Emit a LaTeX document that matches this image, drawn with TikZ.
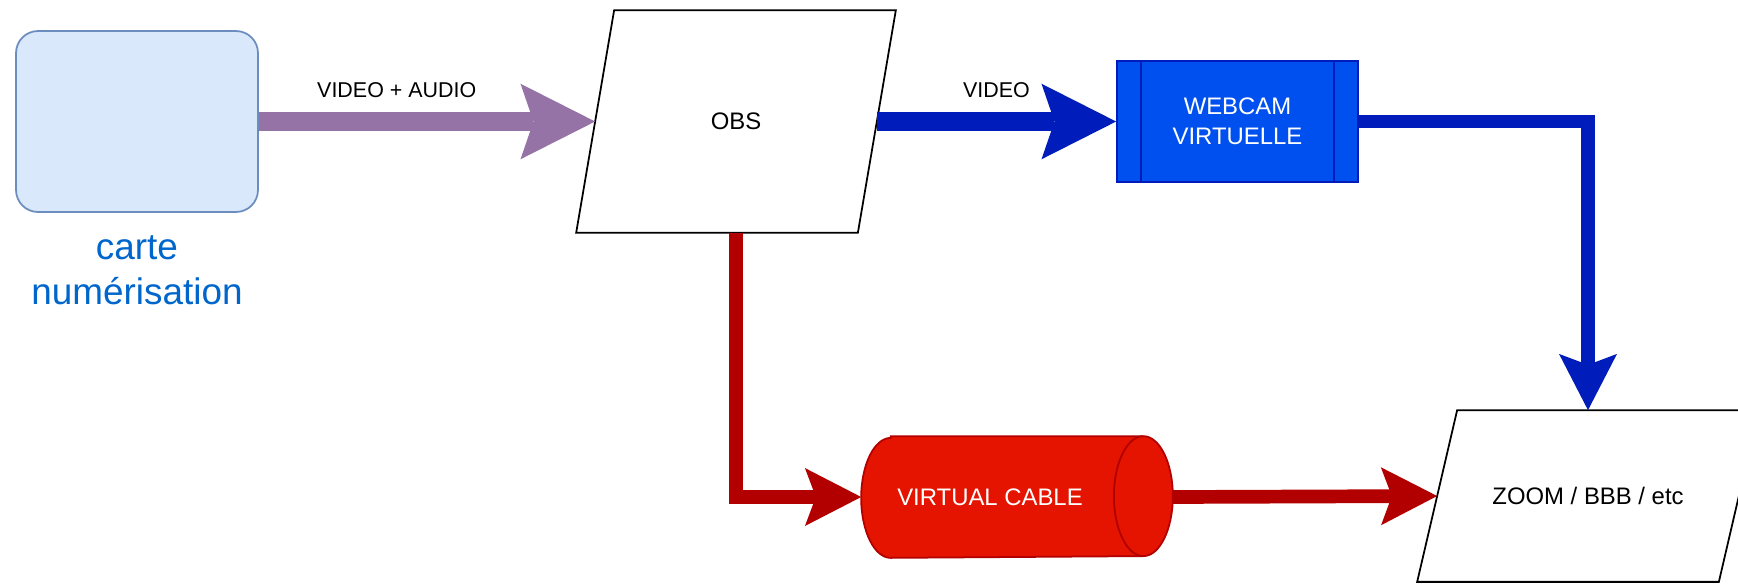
\documentclass[tikz,border=0pt]{standalone}
\usepackage{fontspec}
\setmainfont{Liberation Sans}
\usetikzlibrary{arrows.meta}
\definecolor{cartefill}{HTML}{DAE8FC}
\definecolor{cartedraw}{HTML}{6C8EBF}
\definecolor{cartetext}{HTML}{0066CC}
\definecolor{purpleline}{HTML}{9673A6}
\definecolor{blueline}{HTML}{001DBC}
\definecolor{bluefill}{HTML}{0050EF}
\definecolor{redline}{HTML}{B20000}
\definecolor{redfill}{HTML}{E51400}
\tikzset{
  bigflow/.style={line width=10.5pt,-{Stealth[length=42.5pt,width=43pt,inset=7.4pt,line width=0pt]}},
  smallflow/.style={line width=7.8pt,-{Stealth[length=32pt,width=33pt,inset=6.2pt,line width=0pt]}},
  lbl/.style={text=black,font=\fontsize{12.2}{17}\selectfont},
  boxtxt/.style={text=black,font=\fontsize{13.6}{17}\selectfont},
}
\begin{document}
\begin{tikzpicture}[x=0.02cm,y=-0.02cm,line width=1pt]
       \useasboundingbox (0,0) rectangle (1738,583);
       \node[draw=cartedraw,fill=cartefill,rounded corners=0.44cm,minimum width=4.84cm,minimum height=3.62cm] (carte) at (137,121.5) {};
       \node[text=cartetext,font=\fontsize{21}{25.5}\selectfont,align=center] (cartelbl) at (137,270) {carte\\numérisation};
       \node[boxtxt,minimum width=5.6cm,minimum height=4.42cm] (obs) at (736,121.5) {OBS};
       \node[boxtxt,minimum width=6cm,minimum height=3.4cm] (zoom) at (1588,496) {ZOOM / BBB / etc};
       \foreach \n/\s in {obs/0.38cm,zoom/0.4cm}
         \draw ([xshift=-\s]\n.south west) -- ([xshift=\s]\n.north west) -- ([xshift=\s]\n.north east) -- ([xshift=-\s]\n.south east) -- cycle;
       \node[boxtxt,draw=blueline,fill=bluefill,text=white,align=center,minimum width=4.82cm,minimum height=2.42cm] (web) at (1237.5,121.5) {WEBCAM\\VIRTUELLE};
       \draw[blueline] ([xshift=0.5cm]web.north west) -- ([xshift=0.5cm]web.south west);
       \draw[blueline] ([xshift=-0.5cm]web.north east) -- ([xshift=-0.5cm]web.south east);
       \node[minimum width=6.2cm,minimum height=2.4cm] (cable) at (1017,497) {};
       \filldraw[fill=redfill,draw=redline] ([xshift=0.59cm]cable.north west) -- ([xshift=-0.59cm]cable.north east)
         arc[start angle=90,end angle=-90,x radius=0.59cm,y radius=1.2cm] -- ([xshift=0.59cm]cable.south west)
         arc[start angle=270,end angle=90,x radius=0.59cm,y radius=1.2cm] -- cycle;
       \draw[redline] ([xshift=-0.59cm]cable.north east) arc[start angle=90,end angle=270,x radius=0.59cm,y radius=1.2cm];
       \node[boxtxt,text=white] (cablelbl) at (990,497) {VIRTUAL CABLE};
       \draw[bigflow,purpleline] (carte.east) -- node[lbl,above=0.18cm,pos=0.41]{VIDEO + AUDIO} (obs.west);
       \draw[bigflow,blueline] (obs.east) -- node[lbl,above=0.18cm]{VIDEO} (web.west);
       \draw[smallflow,blueline] (web.east) -| (zoom.north);
       \draw[smallflow,redline] (obs.south) |- (cable.west);
       \draw[smallflow,redline] (cable.east) -- (zoom.west);
\end{tikzpicture}
\end{document}
